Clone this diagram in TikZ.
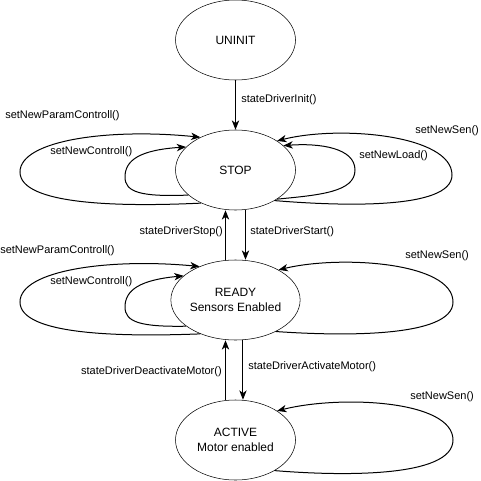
\documentclass[tikz,border=0pt]{standalone}
\usepackage{fontspec}
\setmainfont{Liberation Sans}
\usetikzlibrary{shapes.geometric,arrows.meta}
\begin{document}
\begin{tikzpicture}[x=0.75pt,y=-0.75pt,
  state/.style={draw,ellipse,minimum width=90pt,minimum height=60pt,inner sep=0pt,align=center,font=\fontsize{9pt}{11pt}\selectfont},
  lbl/.style={inner sep=0pt,font=\fontsize{8.25pt}{10pt}\selectfont},
  arr/.style={-{Stealth[length=7pt,width=5.5pt,inset=2pt]},line width=0.75pt},
  loop/.style={-{Stealth[length=7pt,width=5.5pt,inset=2pt]},line width=0.75pt}]
\useasboundingbox (0,0) rectangle (480,481);
\fill[white] (0,0) rectangle (480,481);

\node[state] (UNINIT) at (235.5,40) {UNINIT};
\node[state] (STOP) at (235.5,170) {STOP};
\node[state] (READY) at (235.5,300) {READY\\Sensors Enabled};
\node[state] (ACTIVE) at (235.5,440) {ACTIVE\\Motor enabled};

% straight transitions
\draw[arr] (UNINIT) -- (STOP);
\node[lbl,anchor=west] (linit) at (241,100) {stateDriverInit()};

\draw[arr] ([xshift=-7.5pt]READY.north) -- ([xshift=-7.5pt]STOP.south);
\draw[arr] ([xshift=7.5pt]STOP.south) -- ([xshift=7.5pt]READY.north);
\node[lbl,anchor=east] (lstop) at (223,232) {stateDriverStop()};
\node[lbl,anchor=west] (lstart) at (250,232) {stateDriverStart()};

\draw[arr] ([xshift=-7.5pt]ACTIVE.north) -- ([xshift=-7.5pt]READY.south);
\draw[arr] ([xshift=5.6pt]READY.south) -- ([xshift=5.6pt]ACTIVE.north);
\node[lbl,anchor=east] (ldeact) at (222,372) {stateDriverDeactivateMotor()};
\node[lbl,anchor=west] (lact) at (248,367) {stateDriverActivateMotor()};

% STOP self loops
\draw[loop] (STOP.224) .. controls (120,207) and (20,205) .. (20,172)
  .. controls (20,140) and (110,128) .. (STOP.137);
\draw[loop] (STOP.208) .. controls (140,197) and (125,192) .. (125,177)
  .. controls (125,160) and (140,150) .. (STOP.155);
\draw[loop] (STOP.-38) .. controls (340,206) and (452,210) .. (452,175)
  .. controls (452,135) and (340,125) .. (STOP.35);
\draw[loop] (STOP.-35) .. controls (320,195) and (355,192) .. (355,170)
  .. controls (355,148) and (320,143) .. (STOP.27);
\node[lbl,anchor=west] (lp1) at (5,116) {setNewParamControll()};
\node[lbl,anchor=west] (lc1) at (50,152) {setNewControll()};
\node[lbl,anchor=west] (ls1) at (415,131) {setNewSen()};
\node[lbl,anchor=west] (ll1) at (359,156) {setNewLoad()};

% READY self loops
\draw[loop] (READY.224) .. controls (120,337) and (20,335) .. (20,302)
  .. controls (20,270) and (110,258) .. (READY.137);
\draw[loop] (READY.208) .. controls (140,327) and (125,322) .. (125,307)
  .. controls (125,290) and (140,280) .. (READY.155);
\draw[loop] (READY.-38) .. controls (340,336) and (453,338) .. (453,302)
  .. controls (453,262) and (340,255) .. (READY.35);
\node[lbl,anchor=west] (lp2) at (0,251) {setNewParamControll()};
\node[lbl,anchor=west] (lc2) at (50,282) {setNewControll()};
\node[lbl,anchor=west] (ls2) at (405,256) {setNewSen()};

% ACTIVE self loop
\draw[loop] (ACTIVE.-38) .. controls (340,476) and (453,478) .. (453,440)
  .. controls (453,400) and (340,395) .. (ACTIVE.35);
\node[lbl,anchor=west] (ls3) at (410,397) {setNewSen()};
\end{tikzpicture}
\end{document}
